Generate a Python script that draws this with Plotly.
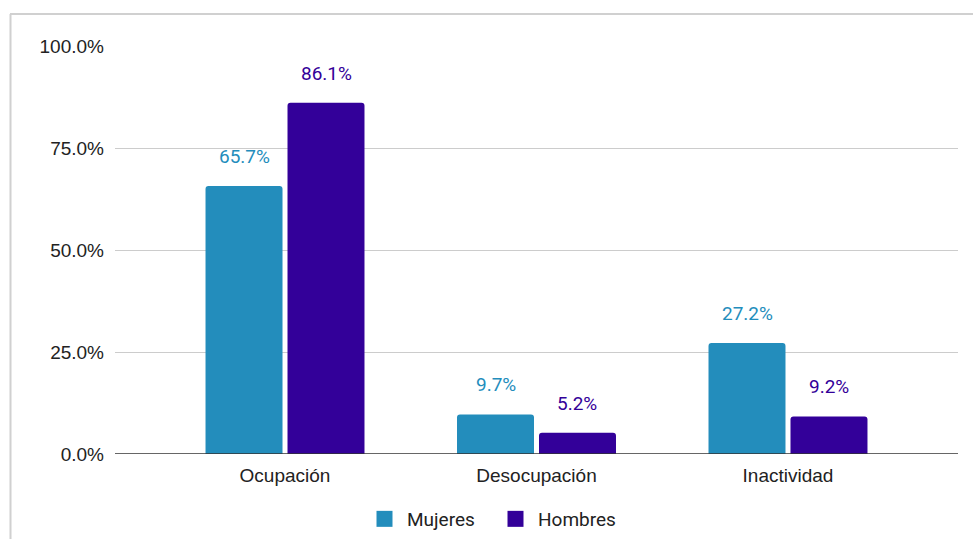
import plotly.graph_objects as go

categories = ["Ocupación", "Desocupación", "Inactividad"]
mujeres = [65.7, 9.7, 27.2]
hombres = [86.1, 5.2, 9.2]
series_names = ["Mujeres", "Hombres"]
colors = ["#238dbc", "#330099"]
y_ticks = [0, 25, 50, 75, 100]
y_tick_labels = ["0.0%", "25.0%", "50.0%", "75.0%", "100.0%"]

W, H = 973, 539
ml, mr, mt, mb = 115, 15, 46, 85
pw, ph = W - ml - mr, H - mt - mb

AXIS_FONT = "Liberation Sans, Arial, sans-serif"
LABEL_FONT = "Roboto"

xs = list(range(len(categories)))
fig = go.Figure()
offset = 0.163
for name, vals, col, sgn in [(series_names[0], mujeres, colors[0], -1),
                             (series_names[1], hombres, colors[1], 1)]:
    fig.add_trace(go.Bar(
        x=xs, y=vals, name=name, marker=dict(color=col, cornerradius=3, line=dict(width=0)),
        showlegend=False, hoverinfo="skip"))
    # legend proxy
    fig.add_trace(go.Scatter(
        x=[None], y=[None], mode="markers", name=name,
        marker=dict(symbol="square", size=16, color=col)))
    for xi, v in zip(xs, vals):
        fig.add_annotation(x=xi + sgn * offset, y=v, xref="x", yref="y",
                           text=f"{v:.1f}%", showarrow=False, yanchor="bottom",
                           yshift=16, font=dict(family=LABEL_FONT, size=19, color=col))

fig.update_layout(
    width=W, height=H,
    margin=dict(l=ml, r=mr, t=mt, b=mb, autoexpand=False),
    paper_bgcolor="white", plot_bgcolor="white",
    barmode="group", bargap=0.348, bargroupgap=0.061,
    font=dict(family=AXIS_FONT, size=19, color="#222222"),
    showlegend=True,
    legend=dict(orientation="h", xref="container", yref="container",
                x=362 / W, xanchor="left",
                y=1 - 519 / H, yanchor="middle",
                font=dict(family=LABEL_FONT, size=19, color="#222222"),
                itemwidth=35, entrywidth=81, entrywidthmode="pixels",
                tracegroupgap=0),
    xaxis=dict(range=[-0.676, 2.676], tickvals=xs, ticktext=categories,
               showgrid=False, zeroline=False, showline=False, ticks="",
               ticklabelstandoff=8, fixedrange=True, automargin=False,
               tickfont=dict(family=AXIS_FONT, size=19, color="#222222")),
    yaxis=dict(range=[0, 100], tickvals=y_ticks, ticktext=y_tick_labels,
               showgrid=True, gridcolor="#cccccc", gridwidth=1,
               zeroline=False, showline=False, ticks="", ticklabelstandoff=10,
               fixedrange=True, automargin=False,
               tickfont=dict(family=AXIS_FONT, size=19, color="#222222")),
    shapes=[
        # baseline
        dict(type="line", xref="paper", yref="y", x0=0, x1=1, y0=0, y1=0,
             line=dict(color="#333333", width=1.5), layer="above"),
        # outer border (left and top)
        dict(type="line", xref="paper", yref="paper",
             x0=(10.5 - ml) / pw, x1=(10.5 - ml) / pw,
             y0=-(mb + 5) / ph, y1=1 + (mt - 14) / ph,
             line=dict(color="#d0d0d0", width=2)),
        dict(type="line", xref="paper", yref="paper",
             x0=(10 - ml) / pw, x1=(W + 5 - ml) / pw,
             y0=1 + (mt - 14) / ph, y1=1 + (mt - 14) / ph,
             line=dict(color="#d0d0d0", width=2)),
    ],
)

fig.write_html("out.html", config={"displayModeBar": False},
               post_script="document.body.style.margin='0';document.body.style.overflow='hidden';")
